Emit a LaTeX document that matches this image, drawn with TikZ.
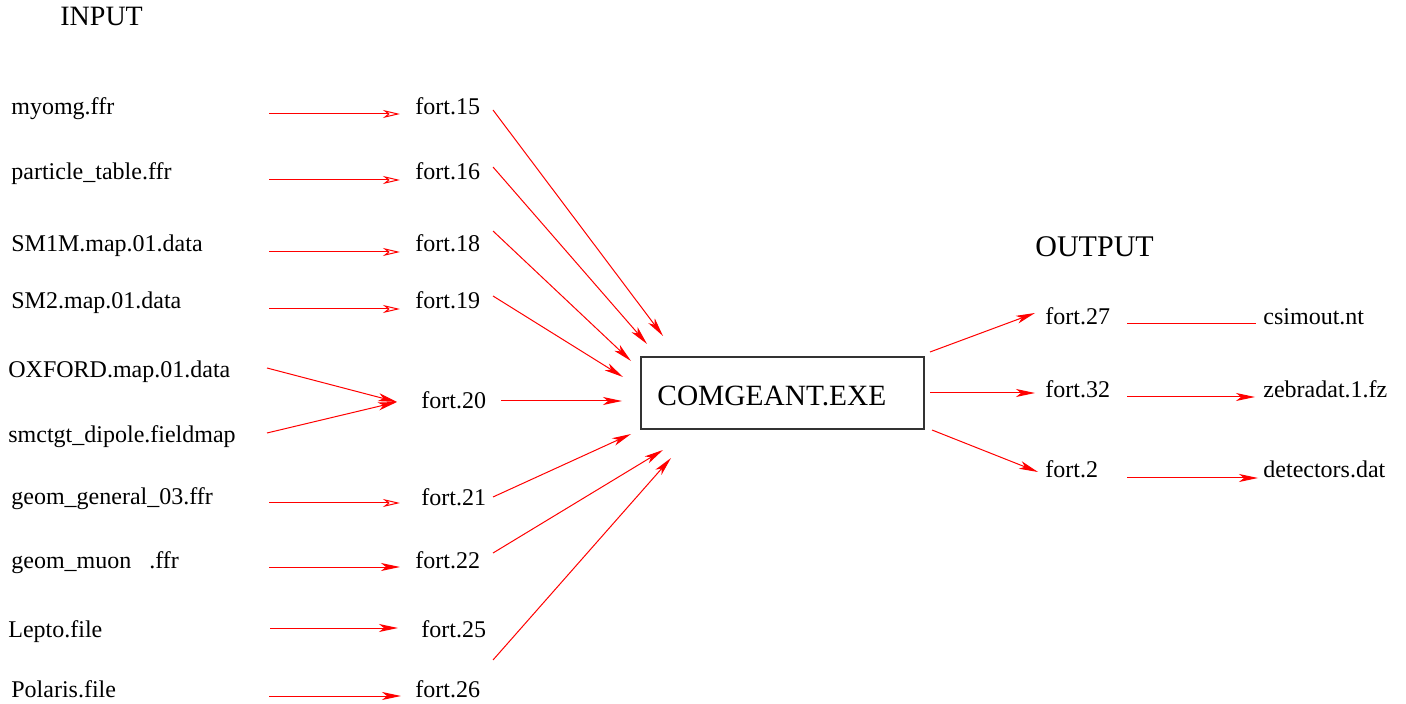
\documentclass[tikz,border=0pt]{standalone}
\usepackage{fontspec}
\setmainfont{Liberation Serif}
\usetikzlibrary{arrows.meta}
\begin{document}
\begin{tikzpicture}[x=0.5pt,y=-0.5pt,
  lbl/.style={anchor=base west,inner sep=0pt,font=\fontsize{12}{14}\selectfont},
  big/.style={anchor=base west,inner sep=0pt,font=\fontsize{14}{17}\selectfont},
  conn/.style={draw=red,line width=0.5pt},
  hol/.style={conn,-{Stealth[open,length=8.5pt,width=4pt,inset=2.5pt]}},
  fil/.style={conn,-{Stealth[length=9.5pt,width=4pt,inset=2.5pt]}},
  boxst/.style={draw=black!80,line width=0.6pt}]
\useasboundingbox (0,0) rectangle (1406,704);
% titles
\node[big] (inputt) at (60,26) {INPUT};
\node[big,font=\fontsize{15}{18}\selectfont] (outputt) at (1035,257) {OUTPUT};
% left labels
\node[lbl] (l1) at (11,115) {myomg.ffr};
\node[lbl] (l2) at (11,180) {particle\_table.ffr};
\node[lbl] (l3) at (11,252) {SM1M.map.01.data};
\node[lbl] (l4) at (11,309) {SM2.map.01.data};
\node[lbl] (l5) at (8,378) {OXFORD.map.01.data};
\node[lbl] (l6) at (8,443) {smctgt\_dipole.fieldmap};
\node[lbl] (l7) at (11,505) {geom\_general\_03.ffr};
\node[lbl] (l8) at (11,568) {geom\_muon\ \ \ .ffr};
\node[lbl] (l9) at (8,637) {Lepto.file};
\node[lbl] (l10) at (11,697) {Polaris.file};
% fort nodes
\node[lbl] (f15) at (415,115) {fort.15};
\node[lbl] (f16) at (415,180) {fort.16};
\node[lbl] (f18) at (415,252) {fort.18};
\node[lbl] (f19) at (415,309) {fort.19};
\node[lbl] (f20) at (421,409) {fort.20};
\node[lbl] (f21) at (421,506) {fort.21};
\node[lbl] (f22) at (415,568) {fort.22};
\node[lbl] (f25) at (421,637) {fort.25};
\node[lbl] (f26) at (415,697) {fort.26};
% box
\node[boxst,minimum width=141.5pt,minimum height=36pt,inner sep=0pt] (exe) at (782.5,393) {};
\node[anchor=base west,inner sep=0pt,font=\fontsize{14.7}{17}\selectfont] (exet) at (657,406) {COMGEANT.EXE};
% outputs
\node[lbl] (f27) at (1045,325) {fort.27};
\node[lbl] (f32) at (1045,398) {fort.32};
\node[lbl] (f2) at (1045,478) {fort.2};
\node[lbl] (o1) at (1263,325) {csimout.nt};
\node[lbl] (o2) at (1263,398) {zebradat.1.fz};
\node[lbl] (o3) at (1263,478) {detectors.dat};
% coordinates: left arrows
\coordinate (a1s) at (269,114); \coordinate (a1e) at (400,114);
\coordinate (a2s) at (269,180); \coordinate (a2e) at (400,180);
\coordinate (a3s) at (269,252); \coordinate (a3e) at (400,252);
\coordinate (a4s) at (269,309); \coordinate (a4e) at (400,309);
\coordinate (a5s) at (267,368); \coordinate (a6s) at (267,433); \coordinate (a56e) at (397,402);
\coordinate (a7s) at (269,503); \coordinate (a7e) at (400,503);
\coordinate (a8s) at (269,567); \coordinate (a8e) at (400,567);
\coordinate (a9s) at (270,628); \coordinate (a9e) at (398,628);
\coordinate (a10s) at (269,696); \coordinate (a10e) at (401,696);
% coordinates: to box
\coordinate (b15s) at (493,110); \coordinate (b15e) at (663,336);
\coordinate (b16s) at (493,167); \coordinate (b16e) at (647,344);
\coordinate (b18s) at (493,231); \coordinate (b18e) at (631,361);
\coordinate (b19s) at (493,296); \coordinate (b19e) at (623,377);
\coordinate (b20s) at (501,401); \coordinate (b20e) at (622,401);
\coordinate (b21s) at (493,497); \coordinate (b21e) at (631,434);
\coordinate (b22s) at (493,553); \coordinate (b22e) at (663,450);
\coordinate (b26s) at (493,660); \coordinate (b26e) at (671,458);
% coordinates: outputs
\coordinate (c27s) at (930,352); \coordinate (c27e) at (1035,313);
\coordinate (c32s) at (930,393); \coordinate (c32e) at (1035,393);
\coordinate (c2s) at (932,430); \coordinate (c2e) at (1038,472);
\coordinate (d1s) at (1127,324); \coordinate (d1e) at (1256,324);
\coordinate (d2s) at (1127,397); \coordinate (d2e) at (1255,397);
\coordinate (d3s) at (1127,478); \coordinate (d3e) at (1258,478);
% connectors
\draw[hol] (a1s) -- (a1e);
\draw[hol] (a2s) -- (a2e);
\draw[hol] (a3s) -- (a3e);
\draw[hol] (a4s) -- (a4e);
\draw[fil] (a5s) -- (a56e);
\draw[fil] (a6s) -- (a56e);
\draw[hol] (a7s) -- (a7e);
\draw[fil] (a8s) -- (a8e);
\draw[fil] (a9s) -- (a9e);
\draw[fil] (a10s) -- (a10e);
\draw[fil] (b15s) -- (b15e);
\draw[fil] (b16s) -- (b16e);
\draw[fil] (b18s) -- (b18e);
\draw[fil] (b19s) -- (b19e);
\draw[fil] (b20s) -- (b20e);
\draw[fil] (b21s) -- (b21e);
\draw[fil] (b22s) -- (b22e);
\draw[fil] (b26s) -- (b26e);
\draw[fil] (c27s) -- (c27e);
\draw[fil] (c32s) -- (c32e);
\draw[fil] (c2s) -- (c2e);
\draw[conn] (d1s) -- (d1e);
\draw[fil] (d2s) -- (d2e);
\draw[fil] (d3s) -- (d3e);
\end{tikzpicture}
\end{document}
